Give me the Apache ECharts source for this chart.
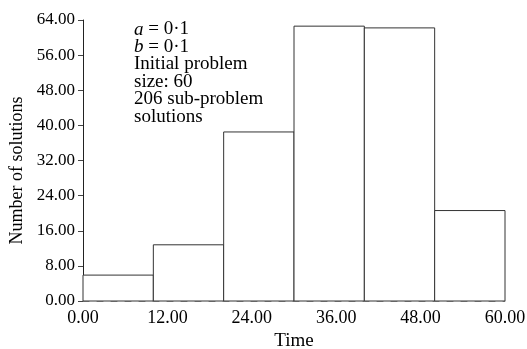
<!DOCTYPE html>
<html>
<head>
<meta charset="utf-8">
<script src="https://cdn.jsdelivr.net/npm/echarts@6/dist/echarts.min.js"></script>
<style>
  html, body { margin: 0; padding: 0; background: #fff; }
  #chart { width: 527px; height: 349px; }
</style>
</head>
<body>
<div id="chart"></div>
<script>
// histogram bins (time) and counts
const binStarts = [0, 10, 20, 30, 40, 50];
const binWidth = 10;
const counts = [5.9, 12.8, 38.5, 62.6, 62.2, 20.6];
const xTicks = [0, 12, 24, 36, 48, 60];
const yTicks = [0, 8, 16, 24, 32, 40, 48, 56, 64];

const chart = echarts.init(document.getElementById('chart'));
const serif = '"Liberation Serif", "DejaVu Serif", serif';

const option = {
  animation: false,
  textStyle: { fontFamily: serif, color: '#000' },
  grid: { left: 83, right: 22, top: 20, bottom: 48, containLabel: false, outerBoundsMode: 'none' },
  xAxis: {
    type: 'value',
    min: xTicks[0],
    max: xTicks[xTicks.length - 1],
    interval: 12,
    name: 'Time',
    nameLocation: 'middle',
    nameGap: 28,
    nameTextStyle: { fontFamily: serif, fontSize: 19, color: '#000' },
    axisLine: { show: true, lineStyle: { color: '#999', width: 1, type: [6, 8] } },
    axisTick: { show: false },
    splitLine: { show: false },
    axisLabel: {
      margin: 8,
      fontFamily: serif,
      fontSize: 18,
      color: '#000',
      formatter: v => v.toFixed(2)
    }
  },
  yAxis: {
    type: 'value',
    min: yTicks[0],
    max: yTicks[yTicks.length - 1],
    interval: 8,
    name: 'Number of solutions',
    nameLocation: 'middle',
    nameGap: 52,
    nameTextStyle: { fontFamily: serif, fontSize: 18, color: '#000', padding: [0, 20, 0, 0] },
    axisLine: { show: true, lineStyle: { color: '#222', width: 1 } },
    axisTick: { show: true, length: 5, lineStyle: { color: '#444' } },
    splitLine: { show: false },
    axisLabel: {
      margin: 8,
      fontFamily: serif,
      fontSize: 17,
      color: '#000',
      formatter: v => v.toFixed(2)
    }
  },
  series: [{
    type: 'custom',
    data: binStarts.map((s, i) => [s, s + binWidth, counts[i]]),
    renderItem: function (params, api) {
      const p0 = api.coord([api.value(0), 0]);
      const p1 = api.coord([api.value(1), api.value(2)]);
      return {
        type: 'rect',
        shape: { x: p0[0], y: p1[1], width: p1[0] - p0[0], height: p0[1] - p1[1] },
        style: { fill: '#fff', stroke: '#333', lineWidth: 1 }
      };
    }
  }],
  graphic: [{
    type: 'text',
    left: 134,
    top: 20,
    style: {
      text: '{i|a} = 0·1\n{i|b} = 0·1\nInitial problem\nsize: 60\n206 sub-problem\nsolutions',
      font: '19px ' + serif,
      fill: '#000',
      lineHeight: 17.5,
      rich: {
        i: { fontStyle: 'italic', fontFamily: serif, fontSize: 19, lineHeight: 17.5 }
      }
    }
  }]
};
chart.setOption(option);
</script>
</body>
</html>
